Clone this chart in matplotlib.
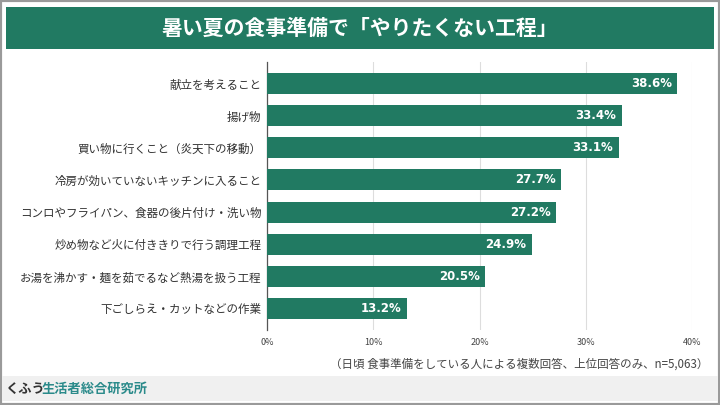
import matplotlib
matplotlib.use("Agg")
import matplotlib.pyplot as plt
from matplotlib.patches import Rectangle

plt.rcParams['font.family'] = ['Noto Sans CJK JP', 'DejaVu Sans']

categories = [
    "献立を考えること",
    "揚げ物",
    "買い物に行くこと（炎天下の移動）",
    "冷房が効いていないキッチンに入ること",
    "コンロやフライパン、食器の後片付け・洗い物",
    "炒め物など火に付ききりで行う調理工程",
    "お湯を沸かす・麺を茹でるなど熱湯を扱う工程",
    "下ごしらえ・カットなどの作業",
]
values = [38.6, 33.4, 33.1, 27.7, 27.2, 24.9, 20.5, 13.2]
xticks = [0, 10, 20, 30, 40]
xtick_labels = ["0%", "10%", "20%", "30%", "40%"]
title = "暑い夏の食事準備で「やりたくない工程」"
note = "（日頃 食事準備をしている人による複数回答、上位回答のみ、n=5,063）"

GREEN = "#217a62"

fig = plt.figure(figsize=(7.2, 4.05), dpi=100)
W, H = 720, 405

def fx(px):
    return px / W

def fy(py):
    return 1 - py / H

# outer border
fig.patches.append(Rectangle((0, 0), 1, 1, transform=fig.transFigure,
                             fill=False, edgecolor="#9a9a9a", linewidth=3, zorder=0))
# title banner
fig.patches.append(Rectangle((fx(6), fy(49)), fx(708), 42 / H, transform=fig.transFigure,
                             facecolor=GREEN, edgecolor="none", zorder=1))
fig.text(0.5, fy(28), title, ha="center", va="center", color="white",
         fontsize=15, fontweight="bold")
# footer band
fig.patches.append(Rectangle((fx(2), fy(401)), fx(716), 25 / H, transform=fig.transFigure,
                             facecolor="#f0f0f0", edgecolor="none", zorder=1))
fig.text(fx(5), fy(389), "くふう", ha="left", va="center", color="#333333",
         fontsize=9.5, fontweight="bold")
fig.text(fx(42), fy(389), "生活者総合研究所", ha="left", va="center", color="#2a8a8a",
         fontsize=9.5, fontweight="bold")

ax = fig.add_axes([fx(267), fy(330), fx(425), (330 - 62) / H])
y = list(range(len(categories)))
ax.barh(y, values, height=0.65, color=GREEN, zorder=3)
for yi, v in zip(y, values):
    ax.text(v - 0.5, yi, f"{v:.1f}%", ha="right", va="center", color="white",
            fontsize=8.5, fontweight="bold", family=["DejaVu Sans"], zorder=4)

ax.set_xlim(0, 40)
ax.set_ylim(len(categories) - 0.33, -0.67)
ax.set_yticks(y)
ax.set_yticklabels(categories, fontsize=8.3, color="#333333")
ax.set_xticks(xticks)
ax.set_xticklabels(xtick_labels, fontsize=6.5, color="#444444")
ax.tick_params(axis="y", length=0, pad=4)
ax.tick_params(axis="x", length=0, pad=6)
ax.grid(axis="x", color="#dddddd", linewidth=0.8, zorder=0)
for s in ["top", "right", "bottom"]:
    ax.spines[s].set_visible(False)
ax.spines["left"].set_color("#555555")
ax.spines["left"].set_linewidth(0.9)

fig.text(fx(708), fy(364), note, ha="right", va="center", color="#444444", fontsize=8.3)

fig.savefig("out.png", dpi=100)
